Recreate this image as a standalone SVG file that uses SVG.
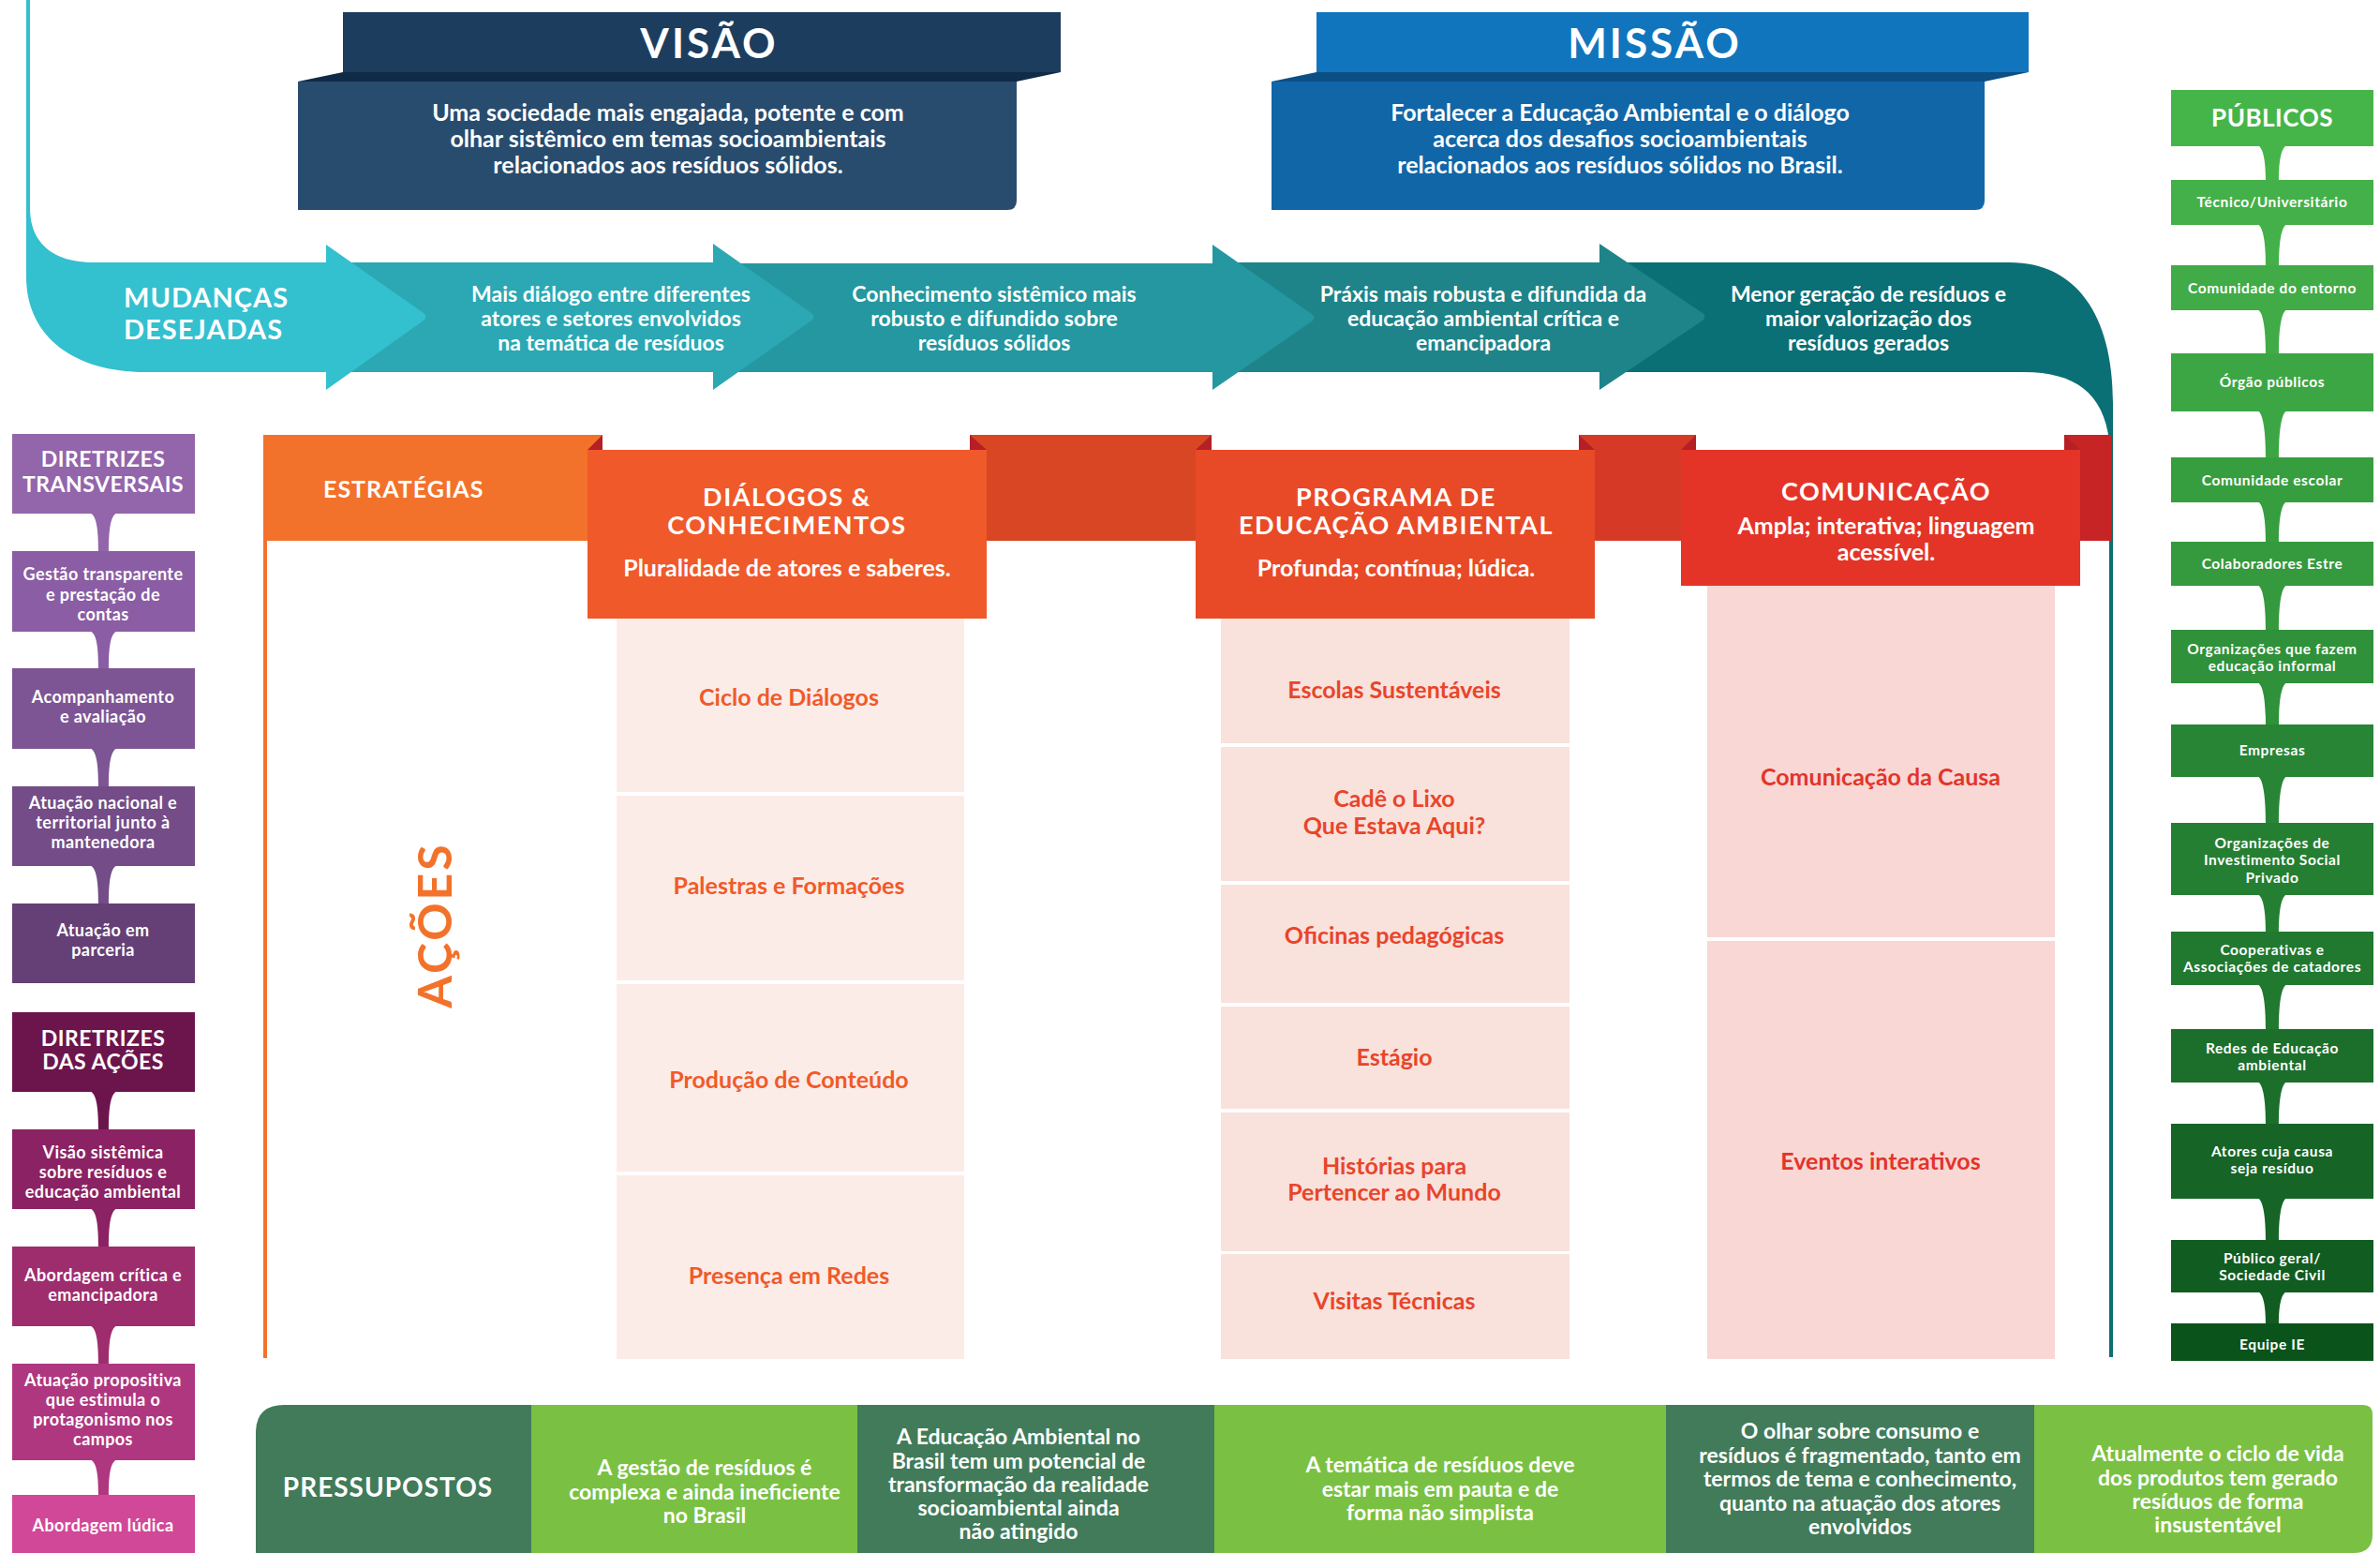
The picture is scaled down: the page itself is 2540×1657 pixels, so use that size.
<svg xmlns="http://www.w3.org/2000/svg" width="2540" height="1657" viewBox="0 0 2540 1657">
<style>
text { font-family: Lato, "Liberation Sans", "DejaVu Sans", sans-serif; font-weight: 700; }
.w { fill: #ffffff; }
.c { text-anchor: middle; }
.big { font-size: 44px; letter-spacing: 3px; }
.vm { font-size: 25px; }
.mid { font-size: 23px; }
.hd { font-size: 27px; letter-spacing: 1.5px; }
.sub { font-size: 25px; }
.act { font-size: 25px; }
.a1 { fill: #F05A2A; }
.a2 { fill: #E8452A; }
.a3 { fill: #E3342A; }
.lt { font-size: 18px; letter-spacing: 0.4px; }
.lh { font-size: 23px; letter-spacing: 0.5px; }
.pt { font-size: 15.5px; letter-spacing: 0.6px; }
.ph { font-size: 26px; letter-spacing: 0.5px; }
.bt { font-size: 23px; }
.fold { fill: #B42025; }
</style>

<!-- Top band (Mudanças desejadas) -->
<g id="mudancas">
  <path d="M1707,280 L2145,280 C2215,280 2255,335 2255,430 L2255,1448 L2251,1448 L2251,470 C2245,420 2215,397 2160,397 L1707,397 Z" fill="#0B6F76"/>
  <path d="M1294,280 L1707,280 L1707,260 L1817,334 Q1822,338 1817,342 L1707,416 L1707,397 L1294,397 Z" fill="#1E848A"/>
  <path d="M761,281 L1294,281 L1294,261 L1400,335 Q1405,339 1400,343 L1294,416 L1294,397 L761,397 Z" fill="#2497A0"/>
  <path d="M348,280 L761,280 L761,260 L866,334 Q871,338 866,342 L761,416 L761,397 L348,397 Z" fill="#2BA8B3"/>
  <path d="M28,0 L32,0 L32,222 C32,258 55,280 100,280 L348,280 L348,261 L452,334 Q457,338 452,342 L348,416 L348,397 L155,397 C80,397 28,360 28,295 Z" fill="#33C0CF"/>
  <text class="w" x="132" y="328" font-size="29" letter-spacing="1">MUDANÇAS</text>
  <text class="w" x="132" y="362" font-size="29" letter-spacing="1">DESEJADAS</text>
  <text class="w c mid" x="652" y="322">Mais diálogo entre diferentes</text>
  <text class="w c mid" x="652" y="348">atores e setores envolvidos</text>
  <text class="w c mid" x="652" y="374">na temática de resíduos</text>
  <text class="w c mid" x="1061" y="322">Conhecimento sistêmico mais</text>
  <text class="w c mid" x="1061" y="348">robusto e difundido sobre</text>
  <text class="w c mid" x="1061" y="374">resíduos sólidos</text>
  <text class="w c mid" x="1583" y="322">Práxis mais robusta e difundida da</text>
  <text class="w c mid" x="1583" y="348">educação ambiental crítica e</text>
  <text class="w c mid" x="1583" y="374">emancipadora</text>
  <text class="w c mid" x="1994" y="322">Menor geração de resíduos e</text>
  <text class="w c mid" x="1994" y="348">maior valorização dos</text>
  <text class="w c mid" x="1994" y="374">resíduos gerados</text>
</g>

<!-- VISÃO -->
<g id="visao">
  <rect x="366" y="13" width="766" height="64" fill="#1C3D5E"/>
  <polygon points="366,77 1132,77 1085,87 318,87" fill="#0F2B48"/>
  <path d="M318,87 L1085,87 L1085,214 Q1085,224 1075,224 L318,224 Z" fill="#284C6E"/>
  <text class="w c big" x="757" y="62">VISÃO</text>
  <text class="w c vm" x="713" y="129">Uma sociedade mais engajada, potente e com</text>
  <text class="w c vm" x="713" y="157">olhar sistêmico em temas socioambientais</text>
  <text class="w c vm" x="713" y="185">relacionados aos resíduos sólidos.</text>
</g>

<!-- MISSÃO -->
<g id="missao">
  <rect x="1405" y="13" width="760" height="64" fill="#1175BD"/>
  <polygon points="1405,77 2165,77 2118,87 1357,87" fill="#0C4F85"/>
  <path d="M1357,87 L2118,87 L2118,214 Q2118,224 2108,224 L1357,224 Z" fill="#1166A7"/>
  <text class="w c big" x="1766" y="62">MISSÃO</text>
  <text class="w c vm" x="1729" y="129">Fortalecer a Educação Ambiental e o diálogo</text>
  <text class="w c vm" x="1729" y="157">acerca dos desafios socioambientais</text>
  <text class="w c vm" x="1729" y="185">relacionados aos resíduos sólidos no Brasil.</text>
</g>

<!-- Estratégias ribbon -->
<g id="estrategias">
  <rect x="281" y="577" width="4" height="872" fill="#F3722B"/>
  <rect x="281" y="464" width="362" height="113" fill="#F3722B"/>
  <rect x="1035" y="464" width="258" height="113" fill="#D84623"/>
  <rect x="1685" y="464" width="125" height="113" fill="#D63A26"/>
  <rect x="2203" y="464" width="50" height="113" fill="#C72426"/>
  <polygon class="fold" points="627,480 643,464 643,480"/>
  <polygon class="fold" points="1035,464 1053,480 1035,480"/>
  <polygon class="fold" points="1276,480 1293,464 1293,480"/>
  <polygon class="fold" points="1685,464 1702,480 1685,480"/>
  <polygon class="fold" points="1794,480 1810,464 1810,480"/>
  <polygon class="fold" points="2203,464 2220,480 2203,480"/>
  <text class="w" x="345" y="531" font-size="25" letter-spacing="1">ESTRATÉGIAS</text>
  <text transform="translate(482,987) rotate(-90)" text-anchor="middle" font-size="50" letter-spacing="3" fill="#F3722B">AÇÕES</text>
</g>

<!-- Strategy 1 -->
<g id="dialogos">
  <rect x="627" y="480" width="426" height="180" fill="#F0592A"/>
  <text class="w c hd" x="840" y="540">DIÁLOGOS &amp;</text>
  <text class="w c hd" x="840" y="570">CONHECIMENTOS</text>
  <text class="w c sub" x="840" y="615">Pluralidade de atores e saberes.</text>
</g>
<g id="dialogos-acoes">
  <rect x="658" y="660" width="371" height="185" fill="#FCECE8"/>
  <rect x="658" y="849" width="371" height="197" fill="#FCECE8"/>
  <rect x="658" y="1050" width="371" height="200" fill="#FCECE8"/>
  <rect x="658" y="1254" width="371" height="196" fill="#FCECE8"/>
  <text class="c act a1" x="842" y="753">Ciclo de Diálogos</text>
  <text class="c act a1" x="842" y="954">Palestras e Formações</text>
  <text class="c act a1" x="842" y="1161">Produção de Conteúdo</text>
  <text class="c act a1" x="842" y="1370">Presença em Redes</text>
</g>

<!-- Strategy 2 -->
<g id="programa">
  <rect x="1276" y="480" width="426" height="180" fill="#E84A27"/>
  <text class="w c hd" x="1490" y="540">PROGRAMA DE</text>
  <text class="w c hd" x="1490" y="570">EDUCAÇÃO AMBIENTAL</text>
  <text class="w c sub" x="1490" y="615">Profunda; contínua; lúdica.</text>
</g>
<g id="programa-acoes">
  <rect x="1303" y="660" width="372" height="133" fill="#F9E1DC"/>
  <rect x="1303" y="797" width="372" height="143" fill="#F9E1DC"/>
  <rect x="1303" y="944" width="372" height="126" fill="#F9E1DC"/>
  <rect x="1303" y="1074" width="372" height="109" fill="#F9E1DC"/>
  <rect x="1303" y="1187" width="372" height="148" fill="#F9E1DC"/>
  <rect x="1303" y="1338" width="372" height="112" fill="#F9E1DC"/>
  <text class="c act a2" x="1488" y="745">Escolas Sustentáveis</text>
  <text class="c act a2" x="1488" y="861">Cadê o Lixo</text>
  <text class="c act a2" x="1488" y="890">Que Estava Aqui?</text>
  <text class="c act a2" x="1488" y="1007">Oficinas pedagógicas</text>
  <text class="c act a2" x="1488" y="1137">Estágio</text>
  <text class="c act a2" x="1488" y="1253">Histórias para</text>
  <text class="c act a2" x="1488" y="1281">Pertencer ao Mundo</text>
  <text class="c act a2" x="1488" y="1397">Visitas Técnicas</text>
</g>

<!-- Strategy 3 -->
<g id="comunicacao">
  <rect x="1794" y="480" width="426" height="145" fill="#E43428"/>
  <text class="w c hd" x="2013" y="534">COMUNICAÇÃO</text>
  <text class="w c sub" x="2013" y="570">Ampla; interativa; linguagem</text>
  <text class="w c sub" x="2013" y="598">acessível.</text>
</g>
<g id="comunicacao-acoes">
  <rect x="1822" y="625" width="371" height="375" fill="#F8D7D5"/>
  <rect x="1822" y="1004" width="371" height="446" fill="#F8D7D5"/>
  <text class="c act a3" x="2007" y="838">Comunicação da Causa</text>
  <text class="c act a3" x="2007" y="1248">Eventos interativos</text>
</g>

<!-- Connectors -->
<g id="connectors">
  <path d="M94,547 C103,547 105,564 105,589 L116,589 C116,564 118,547 127,547 Z" fill="#9365AB"/>
  <path d="M94,673 C103,673 105,689 105,714 L116,714 C116,689 118,673 127,673 Z" fill="#8A5DA4"/>
  <path d="M94,798 C103,798 105,815 105,840 L116,840 C116,815 118,798 127,798 Z" fill="#7E5594"/>
  <path d="M94,923 C103,923 105,940 105,965 L116,965 C116,940 118,923 127,923 Z" fill="#734C88"/>
  <path d="M94,1164 C103,1164 105,1181 105,1206 L116,1206 C116,1181 118,1164 127,1164 Z" fill="#6C154C"/>
  <path d="M94,1289 C103,1289 105,1306 105,1331 L116,1331 C116,1306 118,1289 127,1289 Z" fill="#8B2263"/>
  <path d="M94,1414 C103,1414 105,1431 105,1456 L116,1456 C116,1431 118,1414 127,1414 Z" fill="#9E2D6E"/>
  <path d="M94,1557 C103,1557 105,1572 105,1596 L116,1596 C116,1572 118,1557 127,1557 Z" fill="#AF3780"/>
  <path d="M2408,155 C2415,155 2418,170 2418,193 L2432,193 C2432,170 2435,155 2442,155 Z" fill="#46B549"/>
  <path d="M2408,239 C2415,239 2418,257 2418,284 L2432,284 C2432,257 2435,239 2442,239 Z" fill="#44B049"/>
  <path d="M2408,330 C2415,330 2418,349 2418,378 L2432,378 C2432,349 2435,330 2442,330 Z" fill="#41AB47"/>
  <path d="M2408,438 C2415,438 2418,458 2418,489 L2432,489 C2432,458 2435,438 2442,438 Z" fill="#3DA644"/>
  <path d="M2408,535 C2415,535 2418,552 2418,579 L2432,579 C2432,552 2435,535 2442,535 Z" fill="#379E40"/>
  <path d="M2408,624 C2415,624 2418,643 2418,673 L2432,673 C2432,643 2435,624 2442,624 Z" fill="#35993D"/>
  <path d="M2408,728 C2415,728 2418,746 2418,774 L2432,774 C2432,746 2435,728 2442,728 Z" fill="#2F913A"/>
  <path d="M2408,828 C2415,828 2418,848 2418,879 L2432,879 C2432,848 2435,828 2442,828 Z" fill="#288536"/>
  <path d="M2408,954 C2415,954 2418,970 2418,995 L2432,995 C2432,970 2435,954 2442,954 Z" fill="#257F32"/>
  <path d="M2408,1050 C2415,1050 2418,1069 2418,1099 L2432,1099 C2432,1069 2435,1050 2442,1050 Z" fill="#21782F"/>
  <path d="M2408,1154 C2415,1154 2418,1172 2418,1200 L2432,1200 C2432,1172 2435,1154 2442,1154 Z" fill="#1C6E2B"/>
  <path d="M2408,1278 C2415,1278 2418,1296 2418,1324 L2432,1324 C2432,1296 2435,1278 2442,1278 Z" fill="#166426"/>
  <path d="M2408,1378 C2415,1378 2418,1391 2418,1413 L2432,1413 C2432,1391 2435,1378 2442,1378 Z" fill="#115C21"/>
  <path d="M567,1519 L578,1519 L578,1510 L600,1529 L578,1548 L578,1539 L567,1539 Z" fill="#417B5A"/>
  <path d="M915,1630 L925,1630 L925,1621 L947,1640 L925,1659 L925,1650 L915,1650 Z" fill="#7AC143"/>
  <path d="M1296,1519 L1307,1519 L1307,1510 L1329,1529 L1307,1548 L1307,1539 L1296,1539 Z" fill="#417B5A"/>
  <path d="M1778,1629 L1788,1629 L1788,1620 L1810,1639 L1788,1658 L1788,1649 L1778,1649 Z" fill="#7AC143"/>
  <path d="M2171,1519 L2182,1519 L2182,1510 L2204,1529 L2182,1548 L2182,1539 L2171,1539 Z" fill="#417B5A"/>
</g>

<!-- Diretrizes transversais -->
<g id="diretrizes-transversais">
  <rect x="13" y="463" width="195" height="85" fill="#9365AB"/>
  <text class="w c lh" x="110" y="498">DIRETRIZES</text>
  <text class="w c lh" x="110" y="525">TRANSVERSAIS</text>
</g>
<g id="dt-gestao">
  <rect x="13" y="588" width="195" height="86" fill="#8A5DA4"/>
  <text class="w c lt" x="110" y="619">Gestão transparente</text>
  <text class="w c lt" x="110" y="641">e prestação de</text>
  <text class="w c lt" x="110" y="662">contas</text>
</g>
<g id="dt-acompanhamento">
  <rect x="13" y="713" width="195" height="86" fill="#7E5594"/>
  <text class="w c lt" x="110" y="750">Acompanhamento</text>
  <text class="w c lt" x="110" y="771">e avaliação</text>
</g>
<g id="dt-atuacao-nacional">
  <rect x="13" y="839" width="195" height="85" fill="#734C88"/>
  <text class="w c lt" x="110" y="863">Atuação nacional e</text>
  <text class="w c lt" x="110" y="884">territorial junto à</text>
  <text class="w c lt" x="110" y="905">mantenedora</text>
</g>
<g id="dt-parceria">
  <rect x="13" y="964" width="195" height="85" fill="#654077"/>
  <text class="w c lt" x="110" y="999">Atuação em</text>
  <text class="w c lt" x="110" y="1020">parceria</text>
</g>

<!-- Diretrizes das ações -->
<g id="diretrizes-acoes">
  <rect x="13" y="1080" width="195" height="85" fill="#6C154C"/>
  <text class="w c lh" x="110" y="1116">DIRETRIZES</text>
  <text class="w c lh" x="110" y="1141">DAS AÇÕES</text>
</g>
<g id="da-visao">
  <rect x="13" y="1205" width="195" height="85" fill="#8B2263"/>
  <text class="w c lt" x="110" y="1236">Visão sistêmica</text>
  <text class="w c lt" x="110" y="1257">sobre resíduos e</text>
  <text class="w c lt" x="110" y="1278">educação ambiental</text>
</g>
<g id="da-critica">
  <rect x="13" y="1330" width="195" height="85" fill="#9E2D6E"/>
  <text class="w c lt" x="110" y="1367">Abordagem crítica e</text>
  <text class="w c lt" x="110" y="1388">emancipadora</text>
</g>
<g id="da-propositiva">
  <rect x="13" y="1455" width="195" height="103" fill="#AF3780"/>
  <text class="w c lt" x="110" y="1479">Atuação propositiva</text>
  <text class="w c lt" x="110" y="1500">que estimula o</text>
  <text class="w c lt" x="110" y="1521">protagonismo nos</text>
  <text class="w c lt" x="110" y="1542">campos</text>
</g>
<g id="da-ludica">
  <rect x="13" y="1595" width="195" height="62" fill="#D14898"/>
  <text class="w c lt" x="110" y="1634">Abordagem lúdica</text>
</g>

<!-- Públicos -->
<g id="publicos">
  <rect x="2317" y="96" width="216" height="60" fill="#46B549"/>
  <text class="w c ph" x="2425" y="135">PÚBLICOS</text>
</g>
<g id="p-tecnico"><rect x="2317" y="192" width="216" height="48" fill="#44B049"/><text class="w c pt" x="2425" y="221">Técnico/Universitário</text></g>
<g id="p-entorno"><rect x="2317" y="283" width="216" height="48" fill="#41AB47"/><text class="w c pt" x="2425" y="313">Comunidade do entorno</text></g>
<g id="p-orgao"><rect x="2317" y="377" width="216" height="62" fill="#3DA644"/><text class="w c pt" x="2425" y="413">Órgão públicos</text></g>
<g id="p-escolar"><rect x="2317" y="488" width="216" height="48" fill="#379E40"/><text class="w c pt" x="2425" y="518">Comunidade escolar</text></g>
<g id="p-colaboradores"><rect x="2317" y="578" width="216" height="47" fill="#35993D"/><text class="w c pt" x="2425" y="607">Colaboradores Estre</text></g>
<g id="p-informal"><rect x="2317" y="672" width="216" height="57" fill="#2F913A"/><text class="w c pt" x="2425" y="698">Organizações que fazem</text><text class="w c pt" x="2425" y="716">educação informal</text></g>
<g id="p-empresas"><rect x="2317" y="773" width="216" height="56" fill="#288536"/><text class="w c pt" x="2425" y="806">Empresas</text></g>
<g id="p-isp"><rect x="2317" y="878" width="216" height="77" fill="#257F32"/><text class="w c pt" x="2425" y="905">Organizações de</text><text class="w c pt" x="2425" y="923">Investimento Social</text><text class="w c pt" x="2425" y="942">Privado</text></g>
<g id="p-cooperativas"><rect x="2317" y="994" width="216" height="57" fill="#21782F"/><text class="w c pt" x="2425" y="1019">Cooperativas e</text><text class="w c pt" x="2425" y="1037">Associações de catadores</text></g>
<g id="p-redes"><rect x="2317" y="1098" width="216" height="57" fill="#1C6E2B"/><text class="w c pt" x="2425" y="1124">Redes de Educação</text><text class="w c pt" x="2425" y="1142">ambiental</text></g>
<g id="p-atores"><rect x="2317" y="1199" width="216" height="80" fill="#166426"/><text class="w c pt" x="2425" y="1234">Atores cuja causa</text><text class="w c pt" x="2425" y="1252">seja resíduo</text></g>
<g id="p-geral"><rect x="2317" y="1323" width="216" height="56" fill="#115C21"/><text class="w c pt" x="2425" y="1348">Público geral/</text><text class="w c pt" x="2425" y="1366">Sociedade Civil</text></g>
<g id="p-equipe"><rect x="2317" y="1412" width="216" height="40" fill="#0A531B"/><text class="w c pt" x="2425" y="1440">Equipe IE</text></g>

<!-- Pressupostos -->
<g id="pressupostos">
  <path d="M273,1657 L273,1529 Q273,1499 303,1499 L567,1499 L567,1657 Z" fill="#417B5A"/>
  <text class="w c" x="414" y="1597" font-size="28" letter-spacing="1">PRESSUPOSTOS</text>
</g>
<g id="pr-gestao">
  <rect x="567" y="1499" width="348" height="158" fill="#7AC143"/>
  <text class="w c bt" x="752" y="1574">A gestão de resíduos é</text>
  <text class="w c bt" x="752" y="1600">complexa e ainda ineficiente</text>
  <text class="w c bt" x="752" y="1625">no Brasil</text>
</g>
<g id="pr-educacao">
  <rect x="915" y="1499" width="381" height="158" fill="#417B5A"/>
  <text class="w c bt" x="1087" y="1541">A Educação Ambiental no</text>
  <text class="w c bt" x="1087" y="1567">Brasil tem um potencial de</text>
  <text class="w c bt" x="1087" y="1592">transformação da realidade</text>
  <text class="w c bt" x="1087" y="1617">socioambiental ainda</text>
  <text class="w c bt" x="1087" y="1642">não atingido</text>
</g>
<g id="pr-tematica">
  <rect x="1296" y="1499" width="482" height="158" fill="#7AC143"/>
  <text class="w c bt" x="1537" y="1571">A temática de resíduos deve</text>
  <text class="w c bt" x="1537" y="1597">estar mais em pauta e de</text>
  <text class="w c bt" x="1537" y="1622">forma não simplista</text>
</g>
<g id="pr-olhar">
  <rect x="1778" y="1499" width="393" height="158" fill="#417B5A"/>
  <text class="w c bt" x="1985" y="1535">O olhar sobre consumo e</text>
  <text class="w c bt" x="1985" y="1561">resíduos é fragmentado, tanto em</text>
  <text class="w c bt" x="1985" y="1586">termos de tema e conhecimento,</text>
  <text class="w c bt" x="1985" y="1612">quanto na atuação dos atores</text>
  <text class="w c bt" x="1985" y="1637">envolvidos</text>
</g>
<g id="pr-ciclo">
  <path d="M2171,1499 L2522,1499 Q2532,1499 2532,1509 L2532,1637 Q2532,1657 2512,1657 L2171,1657 Z" fill="#7AC143"/>
  <text class="w c bt" x="2367" y="1559">Atualmente o ciclo de vida</text>
  <text class="w c bt" x="2367" y="1585">dos produtos tem gerado</text>
  <text class="w c bt" x="2367" y="1610">resíduos de forma</text>
  <text class="w c bt" x="2367" y="1635">insustentável</text>
</g>
</svg>
